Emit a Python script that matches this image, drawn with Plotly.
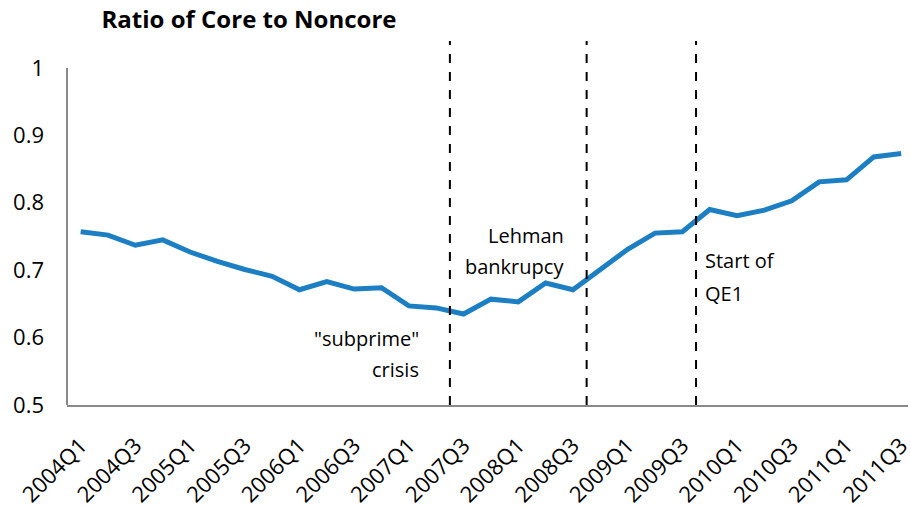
import plotly.graph_objects as go

quarters = [f"{y}Q{q}" for y in range(2004, 2012) for q in range(1, 5)][:31]
ratio = [0.757, 0.752, 0.737, 0.745, 0.727, 0.713, 0.701, 0.691, 0.671, 0.683,
         0.672, 0.674, 0.647, 0.644, 0.635, 0.657, 0.653, 0.681, 0.671, 0.700,
         0.731, 0.755, 0.757, 0.790, 0.781, 0.789, 0.803, 0.831, 0.834, 0.868,
         0.873]
tick_labels = quarters[::2]
event_positions = [13.5, 18.5, 22.5]
event_lines = [['"subprime"', 'crisis'], ['Lehman', 'bankrupcy'], ['Start of', 'QE1']]

xi = list(range(len(quarters)))
FONT = "Open Sans"

fig = go.Figure()
fig.add_trace(go.Scatter(x=xi, y=ratio, mode="lines",
                         line=dict(color="#1c7ec3", width=5), hoverinfo="skip",
                         customdata=quarters))

shapes = []
for xp in event_positions:
    shapes.append(dict(type="line", xref="x", yref="y", x0=xp, x1=xp, y0=0.5, y1=1.04,
                       line=dict(color="black", width=2, dash="dash")))
shapes.append(dict(type="line", xref="paper", yref="y", x0=0, x1=0, y0=0.5, y1=1.0,
                   line=dict(color="#898989", width=2)))

ann_specs = [
    (12.45, [0.599, 0.553], "right"),
    (17.73, [0.751, 0.706], "right"),
    (22.77, [0.714, 0.665], "left"),
]
annotations = []
for (ax_x, ys, anchor), lines in zip(ann_specs, event_lines):
    for yv, txt in zip(ys, lines):
        annotations.append(dict(x=ax_x, y=yv, text=txt, xref="x", yref="y",
                                xanchor=anchor, yanchor="middle", showarrow=False,
                                font=dict(family=FONT, size=20, color="black")))

fig.update_layout(
    width=911, height=508,
    margin=dict(l=67, r=3, t=41, b=103, autoexpand=False),
    paper_bgcolor="white", plot_bgcolor="white",
    showlegend=False,
    shapes=shapes,
    annotations=annotations,
    title=dict(text="<b>Ratio of Core to Noncore</b>", x=249/911, xanchor="center",
               y=1 - 20/508, yanchor="middle", automargin=False,
               font=dict(family=FONT, size=24, color="black")),
    xaxis=dict(range=[-0.5, 30.25], tickmode="array", tickvals=xi[::2],
               ticktext=tick_labels, tickangle=-45, showgrid=False, zeroline=False,
               showline=True, linecolor="#898989", linewidth=2, ticks="",
               ticklabelstandoff=17, automargin=False, ticklabeloverflow="allow",
               tickfont=dict(family=FONT, size=22, color="black")),
    yaxis=dict(range=[0.5, 1.04], tickvals=[0.5, 0.6, 0.7, 0.8, 0.9, 1.0],
               ticktext=["0.5", "0.6", "0.7", "0.8", "0.9", "1"],
               showgrid=False, zeroline=False, showline=False, ticks="",
               ticklabelstandoff=22, automargin=False,
               tickfont=dict(family=FONT, size=22, color="black")),
)

fig.write_html("out.html", config={"displayModeBar": False},
               post_script="document.body.style.margin='0';document.body.style.padding='0';")
